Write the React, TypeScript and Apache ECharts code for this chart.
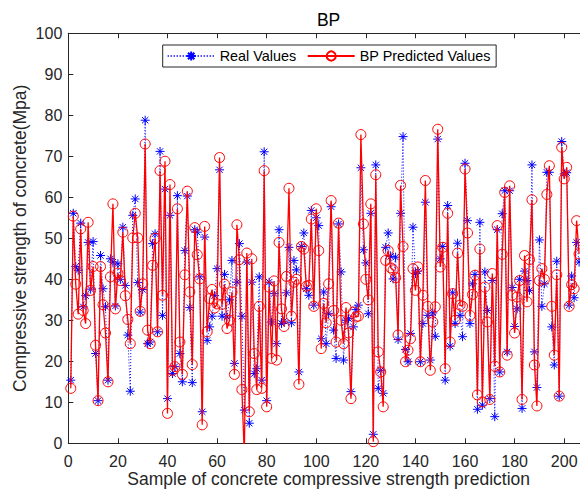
import React, { useEffect, useRef } from "react";
import * as echarts from "echarts";

// Sample indices run 1..206
const realValues: number[] = [
  15.4, 56.1, 43.1, 42.2, 53.7, 33.3, 36.0, 49.0, 37.6, 49.2,
  21.9, 10.4, 45.8, 37.7, 33.3, 15.4, 45.0, 44.2, 33.5, 43.8,
  40.0, 52.7, 38.5, 26.4, 12.7, 55.6, 59.6, 39.2, 32.0, 37.5,
  78.8, 24.3, 24.7, 48.7, 51.1, 27.2, 71.2, 31.2, 62.0, 10.9,
  55.6, 17.0, 18.7, 60.4, 21.9, 15.0, 47.0, 60.3, 33.1, 14.8,
  52.1, 51.5, 40.6, 7.7, 50.3, 25.1, 28.4, 31.0, 36.0, 42.6,
  66.7, 31.0, 41.2, 30.8, 35.0, 44.6, 19.5, 39.3, 48.7, 31.0,
  8.1, 44.2, 4.9, 39.3, 17.0, 18.2, 40.6, 15.4, 71.1, 10.4,
  39.3, 29.6, 36.5, 24.3, 52.1, 29.2, 29.8, 36.7, 47.8, 29.4,
  44.6, 42.3, 17.4, 48.0, 51.3, 37.7, 36.1, 56.8, 33.7, 55.0,
  53.1, 25.5, 36.9, 24.3, 31.6, 57.7, 27.6, 20.7, 53.5, 41.8,
  20.3, 30.0, 30.4, 12.6, 28.4, 32.6, 33.7, 67.2, 47.2, 44.0,
  31.6, 56.1, 2.2, 67.9, 13.4, 17.8, 12.2, 47.8, 51.3, 45.6,
  40.1, 45.4, 25.3, 56.1, 74.8, 22.9, 19.9, 26.8, 52.7, 41.4,
  42.0, 19.9, 29.2, 58.8, 31.2, 20.3, 31.8, 26.1, 74.2, 45.0,
  48.0, 15.4, 58.0, 23.7, 36.7, 29.2, 48.8, 31.2, 26.0, 68.3,
  54.3, 29.2, 38.9, 41.2, 8.3, 53.9, 9.3, 41.8, 32.4, 10.9,
  39.7, 6.5, 52.1, 17.4, 56.0, 61.6, 22.3, 61.6, 38.0, 28.5,
  32.8, 40.0, 8.5, 42.0, 39.7, 37.3, 67.9, 22.3, 13.6, 49.6,
  33.4, 38.9, 66.1, 66.1, 28.4, 19.1, 44.4, 11.5, 73.6, 65.7,
  66.0, 33.7, 40.8, 35.5, 49.0, 44.2,
];

const predictedValues: number[] = [
  13.4, 55.4, 38.8, 31.5, 52.3, 32.4, 29.2, 53.9, 37.3, 43.1,
  23.9, 10.4, 43.1, 33.8, 26.9, 15.0, 40.6, 58.4, 32.8, 41.5,
  39.7, 51.5, 36.0, 30.2, 24.3, 50.1, 56.1, 50.1, 32.2, 38.9,
  73.0, 27.6, 24.3, 43.4, 50.0, 27.2, 66.5, 36.1, 68.8, 7.3,
  63.1, 17.8, 18.7, 57.2, 24.7, 16.8, 41.1, 61.5, 36.9, 19.2,
  52.6, 46.0, 40.1, 4.5, 52.9, 27.2, 35.3, 37.5, 33.0, 34.0,
  69.7, 33.9, 38.8, 28.0, 30.0, 36.9, 16.8, 53.3, 44.8, 13.1,
  -3.0, 46.4, 7.7, 45.0, 21.9, 13.1, 33.4, 13.4, 66.5, 8.9,
  38.1, 20.7, 39.6, 20.3, 49.0, 32.8, 28.5, 40.7, 62.2, 31.0,
  39.3, 40.0, 14.4, 48.0, 47.4, 38.3, 38.5, 54.7, 33.4, 57.2,
  47.0, 23.1, 34.1, 29.4, 38.9, 59.2, 32.4, 24.7, 53.7, 30.0,
  24.3, 33.1, 26.9, 10.9, 32.0, 30.8, 31.0, 75.3, 53.5, 40.0,
  35.0, 58.4, 0.4, 65.5, 22.3, 17.4, 8.9, 44.6, 47.0, 42.8,
  42.3, 40.4, 26.4, 62.9, 48.0, 19.9, 22.7, 25.5, 42.6, 37.3,
  43.0, 19.9, 36.1, 64.1, 33.4, 17.8, 29.6, 33.3, 76.6, 43.0,
  47.8, 18.2, 56.1, 24.7, 36.5, 30.0, 46.4, 33.7, 33.4, 66.9,
  51.3, 31.2, 36.3, 41.0, 11.8, 47.4, 10.1, 38.1, 29.6, 10.7,
  41.4, 18.8, 53.1, 17.4, 46.1, 61.2, 21.5, 62.8, 36.1, 26.9,
  35.7, 39.7, 10.7, 45.8, 34.5, 44.8, 59.4, 19.1, 9.1, 39.7,
  42.6, 40.0, 60.7, 67.7, 33.4, 21.5, 41.1, 11.5, 72.2, 64.5,
  67.3, 33.4, 38.7, 37.7, 54.3, 46.2,
];

const seriesNames = ["Real Values", "BP Predicted Values"];
const titleText = "BP";
const xAxisName = "Sample of concrete compressive strength prediction";
const yAxisName = "Compressive strength of concrete(Mpa)";
const xTickValues = [0, 20, 40, 60, 80, 100, 120, 140, 160, 180, 200];

const FONT = '"Liberation Sans", Arial, Helvetica, sans-serif';
const AXIS_COLOR = "#262626";
const ASTERISK =
  "path://M5 0 L5 10 M0 5 L10 5 M1.5 1.5 L8.5 8.5 M1.5 8.5 L8.5 1.5";

export default function App() {
  const ref = useRef<HTMLDivElement>(null);

  useEffect(() => {
    if (!ref.current) return;
    const chart = echarts.init(ref.current, null, { renderer: "svg" });

    const realData = realValues.map((v, i) => [i + 1, v]);
    const predData = predictedValues.map((v, i) => [i + 1, v]);

    const tickLabel = {
      fontSize: 16,
      color: AXIS_COLOR,
      fontFamily: FONT,
    };

    chart.setOption({
      animation: false,
      backgroundColor: "#ffffff",
      textStyle: { fontFamily: FONT },
      graphic: [
        {
          type: "text",
          x: 328.6,
          y: 20,
          style: {
            text: titleText,
            fill: "#000000",
            font: `17.5px ${FONT}`,
            align: "center",
            verticalAlign: "middle",
          },
          z: 10,
        },
      ],
      legend: {
        data: seriesNames,
        left: 162.7,
        top: 45,
        orient: "horizontal",
        itemWidth: 47,
        itemHeight: 11.5,
        itemGap: 10.5,
        padding: [4, 5.5, 4, 4],
        backgroundColor: "#ffffff",
        borderColor: AXIS_COLOR,
        borderWidth: 1,
        textStyle: { fontSize: 14.4, color: "#000000", fontFamily: FONT },
      },
      grid: {
        left: 68.3,
        right: 0,
        top: 33.3,
        bottom: 47.7,
        containLabel: false,
        outerBoundsMode: "none",
      },
      xAxis: [
        {
          type: "value",
          position: "bottom",
          min: 0,
          max: 210,
          interval: 20,
          name: xAxisName,
          nameLocation: "middle",
          nameGap: 27,
          nameMoveOverlap: false,
          nameTextStyle: { fontSize: 17.5, color: AXIS_COLOR, fontFamily: FONT },
          axisLine: { show: true, onZero: false, lineStyle: { color: AXIS_COLOR, width: 1 } },
          axisTick: { show: true, inside: true, length: 5, lineStyle: { color: AXIS_COLOR } },
          axisLabel: {
            ...tickLabel,
            margin: 10,
            formatter: (v: number) => (xTickValues.includes(v) ? String(v) : ""),
          },
          splitLine: { show: false },
        },
        {
          type: "value",
          position: "top",
          min: 0,
          max: 210,
          interval: 20,
          axisLine: { show: true, onZero: false, lineStyle: { color: AXIS_COLOR, width: 1 } },
          axisTick: { show: true, inside: true, length: 5, lineStyle: { color: AXIS_COLOR } },
          axisLabel: { show: false },
          splitLine: { show: false },
        },
      ],
      yAxis: [
        {
          type: "value",
          position: "left",
          min: 0,
          max: 100,
          interval: 10,
          name: yAxisName,
          nameLocation: "middle",
          nameGap: 39,
          nameMoveOverlap: false,
          nameTextStyle: { fontSize: 17.5, color: AXIS_COLOR, fontFamily: FONT },
          axisLine: { show: true, onZero: false, lineStyle: { color: AXIS_COLOR, width: 1 } },
          axisTick: { show: true, inside: true, length: 5, lineStyle: { color: AXIS_COLOR } },
          axisLabel: { ...tickLabel, margin: 6 },
          splitLine: { show: false },
        },
        {
          type: "value",
          position: "right",
          min: 0,
          max: 100,
          interval: 10,
          axisLine: { show: true, onZero: false, lineStyle: { color: AXIS_COLOR, width: 1 } },
          axisTick: { show: true, inside: true, length: 5, lineStyle: { color: AXIS_COLOR } },
          axisLabel: { show: false },
          splitLine: { show: false },
        },
      ],
      series: [
        {
          name: seriesNames[0],
          type: "line",
          xAxisIndex: 0,
          yAxisIndex: 0,
          data: realData,
          symbol: ASTERISK,
          symbolSize: 9,
          showAllSymbol: true,
          itemStyle: { color: "rgba(0,0,0,0)", borderColor: "#0000ff", borderWidth: 1 },
          lineStyle: { color: "#0000ff", width: 1, type: [1, 2] },
          emphasis: { disabled: true },
          z: 2,
        },
        {
          name: seriesNames[1],
          type: "line",
          xAxisIndex: 0,
          yAxisIndex: 0,
          data: predData,
          symbol: "circle",
          symbolSize: 10,
          showAllSymbol: true,
          itemStyle: { color: "rgba(0,0,0,0)", borderColor: "#ff0000", borderWidth: 1 },
          lineStyle: { color: "#ff0000", width: 1.3, type: "solid" },
          emphasis: { disabled: true },
          z: 3,
        },
      ],
    });

    return () => {
      chart.dispose();
    };
  }, []);

  return (
    <div
      style={{
        position: "absolute",
        left: 0,
        top: 0,
        width: 580,
        height: 491,
        overflow: "hidden",
        background: "#ffffff",
      }}
    >
      <div ref={ref} style={{ width: 589, height: 491 }} />
    </div>
  );
}
